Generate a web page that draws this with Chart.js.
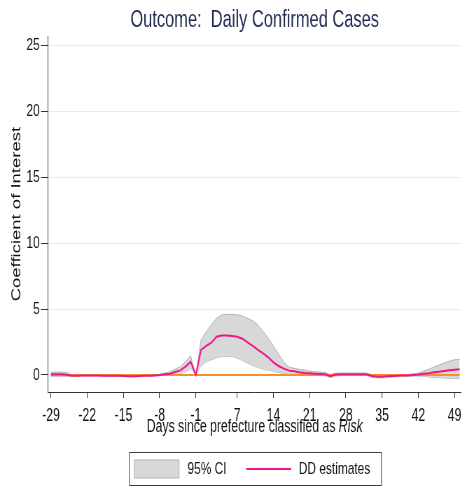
<!DOCTYPE html>
<html>
<head>
<meta charset="utf-8">
<title>Outcome: Daily Confirmed Cases</title>
<script src="https://cdn.jsdelivr.net/npm/chart.js@4.4.1/dist/chart.umd.min.js"></script>
<style>
  html, body { margin: 0; padding: 0; background: #ffffff; overflow: hidden; }
  #c { display: block; }
</style>
</head>
<body>
<!-- drawn on a wider canvas, shown at 467px wide (condensed horizontally) -->
<canvas id="c" width="667" height="487" style="width:467px;height:487px"></canvas>
<script>
// Event-study estimates by day relative to classification (day -1 is the reference)
const days = [-29,-28,-27,-26,-25,-24,-23,-22,-21,-20,-19,-18,-17,-16,-15,-14,-13,-12,-11,-10,
  -9,-8,-7,-6,-5,-4,-3,-2,-1,0,1,2,3,4,5,6,7,8,9,10,
  11,12,13,14,15,16,17,18,19,20,21,22,23,24,25,26,27,28,29,30,
  31,32,33,34,35,36,37,38,39,40,41,42,43,44,45,46,47,48,49,50];

const ddEstimates = [0.05,0.05,0.05,0.02,-0.05,-0.05,-0.04,-0.04,-0.04,-0.04,
  -0.05,-0.05,-0.06,-0.06,-0.07,-0.09,-0.10,-0.08,-0.06,-0.05,
  -0.03,-0.01,0.05,0.10,0.23,0.35,0.63,1.00,0.00,1.90,
  2.20,2.45,2.90,3.00,3.00,2.95,2.90,2.75,2.47,2.20,
  1.90,1.64,1.34,0.96,0.68,0.48,0.33,0.28,0.20,0.15,
  0.13,0.10,0.08,0.05,-0.10,0.03,0.05,0.05,0.06,0.06,
  0.06,0.05,-0.08,-0.13,-0.13,-0.10,-0.08,-0.05,-0.03,-0.03,
  0.00,0.03,0.10,0.13,0.20,0.25,0.30,0.35,0.40,0.43];

const ciLower = [-0.10,-0.12,-0.12,-0.10,-0.12,-0.10,-0.08,-0.08,-0.08,-0.08,
  -0.09,-0.09,-0.10,-0.10,-0.12,-0.14,-0.15,-0.13,-0.11,-0.09,
  -0.07,-0.05,-0.02,0.00,0.04,0.10,0.25,0.50,0.00,0.70,
  1.00,1.15,1.30,1.40,1.42,1.40,1.28,1.10,0.90,0.72,
  0.57,0.45,0.37,0.27,0.18,0.12,0.08,0.05,0.02,0.00,
  -0.02,-0.03,-0.04,-0.06,-0.20,-0.08,-0.05,-0.04,-0.03,-0.03,
  -0.03,-0.04,-0.18,-0.22,-0.22,-0.19,-0.16,-0.13,-0.11,-0.10,
  -0.08,-0.08,-0.10,-0.15,-0.18,-0.20,-0.23,-0.25,-0.26,-0.27];

const ciUpper = [0.20,0.22,0.22,0.18,0.02,0.00,0.00,0.00,0.00,0.00,
  -0.01,-0.01,-0.02,-0.02,-0.02,-0.04,-0.05,-0.03,-0.01,-0.01,
  0.01,0.05,0.13,0.25,0.43,0.63,1.00,1.45,0.00,2.65,
  3.30,3.80,4.30,4.55,4.60,4.60,4.55,4.47,4.30,4.10,
  3.80,3.30,2.80,2.20,1.60,0.97,0.60,0.50,0.43,0.37,
  0.30,0.25,0.22,0.18,0.03,0.14,0.15,0.14,0.15,0.15,
  0.15,0.14,0.03,-0.03,-0.03,-0.01,0.00,0.02,0.04,0.04,
  0.08,0.15,0.30,0.43,0.60,0.75,0.90,1.05,1.15,1.20];

const xTickValues = [-29,-22,-15,-8,-1,7,14,21,28,35,42,49];
const yTickValues = [0,5,10,15,20,25];

const FONT = "'Liberation Sans', Arial, Helvetica, sans-serif";
const PINK = '#f0168a';
const ORANGE = '#f39325';
const BAND_FILL = '#d8d8d8';
const BAND_EDGE = '#b4b4b4';

const pts = vals => days.map((d, i) => ({ x: d, y: vals[i] }));

// X-axis title with the italic group name, centred under the plot region
const xAxisTitle = {
  id: 'xAxisTitle',
  afterDraw(chart) {
    const ctx = chart.ctx;
    const a = chart.chartArea;
    const cx = (a.left + a.right) / 2;
    const y = 431.5;
    const plain = 'Days since prefecture classified as ';
    const italic = 'Risk';
    ctx.save();
    ctx.fillStyle = '#111111';
    ctx.textBaseline = 'alphabetic';
    ctx.textAlign = 'left';
    ctx.font = '17.5px ' + FONT;
    const w1 = ctx.measureText(plain).width;
    ctx.font = 'italic 17.5px ' + FONT;
    const w2 = ctx.measureText(italic).width;
    const x0 = cx - (w1 + w2) / 2;
    ctx.font = '17.5px ' + FONT;
    ctx.fillText(plain, x0, y);
    ctx.font = 'italic 17.5px ' + FONT;
    ctx.fillText(italic, x0 + w1, y);
    ctx.restore();
  }
};

// Framed legend below the axis title, centred on the plot region
const boxedLegend = {
  id: 'boxedLegend',
  afterDraw(chart) {
    const ctx = chart.ctx;
    const a = chart.chartArea;
    const cx = (a.left + a.right) / 2;
    const top = 452.5, h = 33, midY = top + h / 2;
    ctx.save();
    ctx.strokeStyle = '#404040';
    ctx.lineWidth = 1;
    ctx.strokeRect(cx - 179, top, 360, h);
    // CI swatch
    ctx.fillStyle = BAND_FILL;
    ctx.fillRect(cx - 172, midY - 9, 64, 18);
    ctx.strokeStyle = BAND_EDGE;
    ctx.strokeRect(cx - 172, midY - 9, 64, 18);
    // estimate line sample
    ctx.strokeStyle = PINK;
    ctx.lineWidth = 2;
    ctx.beginPath();
    ctx.moveTo(cx - 12, midY);
    ctx.lineTo(cx + 52, midY);
    ctx.stroke();
    ctx.fillStyle = '#111111';
    ctx.font = '17px ' + FONT;
    ctx.textBaseline = 'middle';
    ctx.textAlign = 'left';
    ctx.fillText('95% CI', cx - 96, midY);
    ctx.fillText('DD estimates', cx + 63, midY);
    ctx.restore();
  }
};

new Chart(document.getElementById('c'), {
  type: 'line',
  data: {
    datasets: [
      {
        label: 'DD estimates',
        data: pts(ddEstimates),
        borderColor: PINK,
        borderWidth: 2,
        pointRadius: 0,
        fill: false,
        order: 0
      },
      {
        label: 'zero',
        data: days.map(d => ({ x: d, y: 0 })),
        borderColor: ORANGE,
        borderWidth: 1.8,
        pointRadius: 0,
        fill: false,
        order: 1
      },
      {
        label: '95% CI upper',
        data: pts(ciUpper),
        borderColor: BAND_EDGE,
        borderWidth: 1,
        backgroundColor: BAND_FILL,
        pointRadius: 0,
        fill: '+1',
        order: 2
      },
      {
        label: '95% CI lower',
        data: pts(ciLower),
        borderColor: BAND_EDGE,
        borderWidth: 1,
        pointRadius: 0,
        fill: false,
        order: 3
      }
    ]
  },
  options: {
    responsive: false,
    devicePixelRatio: 1,
    animation: false,
    events: [],
    layout: { autoPadding: false, padding: { left: 0, right: 0, top: 0, bottom: 42 } },
    plugins: {
      legend: { display: false },
      tooltip: { enabled: false },
      title: {
        display: true,
        fullSize: false,
        text: 'Outcome:  Daily Confirmed Cases',
        color: '#1f2c52',
        font: { family: FONT, size: 23.5, weight: 'normal' },
        padding: { top: 6, bottom: 2 }
      }
    },
    scales: {
      x: {
        type: 'linear',
        min: -29.57,
        max: 50.32,
        afterBuildTicks: s => { s.ticks = xTickValues.map(v => ({ value: v })); },
        afterFit: s => { s.height = 53; },
        border: { display: true, color: '#333333', width: 1 },
        grid: { drawOnChartArea: false, drawTicks: true, tickLength: 6, tickColor: '#333333', tickWidth: 1 },
        ticks: {
          color: '#111111',
          padding: 8,
          maxRotation: 0,
          autoSkip: false,
          font: { family: FONT, size: 17.5 },
          callback: v => String(v)
        },
        title: { display: false }
      },
      y: {
        type: 'linear',
        min: -1.29,
        max: 25.68,
        afterBuildTicks: s => { s.ticks = yTickValues.map(v => ({ value: v })); },
        afterFit: s => { s.width = 68.6; },
        border: { display: true, color: '#333333', width: 1 },
        grid: { drawOnChartArea: true, color: '#e6eeef', lineWidth: 1, drawTicks: true, tickLength: 10, tickColor: '#333333', tickWidth: 1 },
        ticks: {
          color: '#111111',
          padding: 2,
          font: { family: FONT, size: 17 },
          callback: v => String(v)
        },
        title: {
          display: true,
          text: 'Coefficient of Interest',
          color: '#111111',
          font: { family: FONT, size: 18.5 },
          padding: { top: 13, bottom: 0 }
        }
      }
    }
  },
  plugins: [xAxisTitle, boxedLegend]
});
</script>
</body>
</html>
